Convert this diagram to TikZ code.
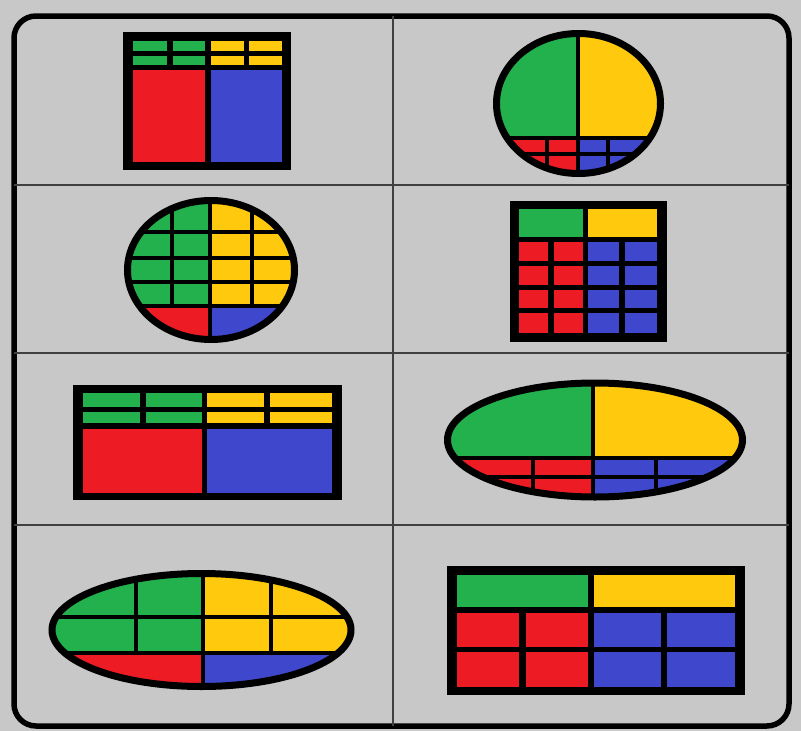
\documentclass[tikz,border=0pt]{standalone}
\usepackage{tikz}
\definecolor{paintgreen}{HTML}{22B14C}
\definecolor{paintyellow}{HTML}{FFC90E}
\definecolor{paintred}{HTML}{ED1C24}
\definecolor{paintblue}{HTML}{3F48CC}
\definecolor{paintgray}{HTML}{C8C8C8}

\begin{document}
\begin{tikzpicture}[x=1pt,y=-1pt,
frame/.style={draw=black,line width=5.5pt,rounded corners=22pt},
divider/.style={draw=black!75,line width=1.6pt},
gr/.style={fill=paintgreen},
ye/.style={fill=paintyellow},
re/.style={fill=paintred},
bl/.style={fill=paintblue},
sep/.style={draw=black,line width=4.5pt},
rim/.style={draw=black,line width=7pt}]
\fill[paintgray] (0,0) rectangle (801,731);
\useasboundingbox (0,0) rectangle (801,731);

% outer frame and cell grid
\draw[frame] (14,16) rectangle (789,726);
\draw[divider] (393,16) -- (393,726);
\draw[divider] (14,185) -- (789,185);
\draw[divider] (14,353) -- (789,353);
\draw[divider] (14,525) -- (789,525);

% row 1, left: table
\fill[black] (123,32) rectangle (291,170);
\foreach \ya/\yb in {41/51,56/65}{
  \fill[gr] (133,\ya) rectangle (167,\yb);
  \fill[gr] (173,\ya) rectangle (205,\yb);
  \fill[ye] (211,\ya) rectangle (244,\yb);
  \fill[ye] (249,\ya) rectangle (282,\yb);
}
\fill[re] (133,70) rectangle (205,162);
\fill[bl] (211,70) rectangle (282,162);

% row 1, right: ellipse
\begin{scope}
\clip (578.5,103.5) ellipse [x radius=82pt,y radius=70pt];
\fill[gr] (490,28) rectangle (578,138);
\fill[ye] (578,28) rectangle (667,138);
\fill[re] (490,138) rectangle (578,180);
\fill[bl] (578,138) rectangle (667,180);
\draw[sep] (578,28) -- (578,180);
\draw[sep] (490,138) -- (667,138);
\draw[sep,line width=4pt] (490,154) -- (667,154);
\draw[sep,line width=4pt] (547,138) -- (547,180);
\draw[sep,line width=4pt] (608,138) -- (608,180);
\end{scope}
\draw[rim] (578.5,103.5) ellipse [x radius=82pt,y radius=70pt];

% row 2, left: ellipse with grid
\begin{scope}
\clip (211,270) ellipse [x radius=83.5pt,y radius=69.5pt];
\fill[gr] (120,194) rectangle (210,306);
\fill[ye] (210,194) rectangle (302,306);
\fill[re] (120,306) rectangle (210,346);
\fill[bl] (210,306) rectangle (302,346);
\draw[sep] (210,194) -- (210,346);
\foreach \y in {232,258,282,306}
  \draw[sep] (120,\y) -- (302,\y);
\draw[sep] (172,194) -- (172,306);
\draw[sep] (252,194) -- (252,306);
\end{scope}
\draw[rim] (211,270) ellipse [x radius=83.5pt,y radius=69.5pt];

% row 2, right: table
\fill[black] (510,201) rectangle (667,342);
\fill[gr] (519,209) rectangle (583,237);
\fill[ye] (588,209) rectangle (657,237);
\foreach \ya/\yb in {242/261,266/285,290/308,313/333}{
  \fill[re] (519,\ya) rectangle (548,\yb);
  \fill[re] (554,\ya) rectangle (583,\yb);
  \fill[bl] (588,\ya) rectangle (619,\yb);
  \fill[bl] (625,\ya) rectangle (657,\yb);
}

% row 3, left: wide table
\fill[black] (73,385) rectangle (342,500);
\foreach \ya/\yb in {393/407,412/423}{
  \fill[gr] (83,\ya) rectangle (140,\yb);
  \fill[gr] (146,\ya) rectangle (202,\yb);
  \fill[ye] (207,\ya) rectangle (264,\yb);
  \fill[ye] (270,\ya) rectangle (332,\yb);
}
\fill[re] (83,429) rectangle (202,493);
\fill[bl] (207,429) rectangle (332,493);

% row 3, right: wide ellipse
\begin{scope}
\clip (595,440) ellipse [x radius=147.5pt,y radius=57pt];
\fill[gr] (440,376) rectangle (593,458);
\fill[ye] (593,376) rectangle (750,458);
\fill[re] (440,458) rectangle (593,504);
\fill[bl] (593,458) rectangle (750,504);
\draw[sep] (593,376) -- (593,504);
\draw[sep] (440,458) -- (750,458);
\draw[sep,line width=4pt] (440,477) -- (750,477);
\draw[sep,line width=4pt] (533,458) -- (533,504);
\draw[sep,line width=4pt] (656,458) -- (656,504);
\end{scope}
\draw[rim] (595,440) ellipse [x radius=147.5pt,y radius=57pt];

% row 4, left: wide ellipse with grid
\begin{scope}
\clip (201.5,630) ellipse [x radius=149.5pt,y radius=56.5pt];
\fill[gr] (45,566) rectangle (203,653);
\fill[ye] (203,566) rectangle (358,653);
\fill[re] (45,653) rectangle (203,694);
\fill[bl] (203,653) rectangle (358,694);
\draw[sep] (203,566) -- (203,694);
\draw[sep] (45,617) -- (358,617);
\draw[sep] (45,653) -- (358,653);
\draw[sep] (136,566) -- (136,653);
\draw[sep] (271,566) -- (271,653);
\end{scope}
\draw[rim] (201.5,630) ellipse [x radius=149.5pt,y radius=56.5pt];

% row 4, right: wide table
\fill[black] (447,566) rectangle (745,695);
\fill[gr] (457,575) rectangle (588,607);
\fill[ye] (594,575) rectangle (735,607);
\foreach \ya/\yb in {613/647,652/687}{
  \fill[re] (457,\ya) rectangle (519,\yb);
  \fill[re] (526,\ya) rectangle (588,\yb);
  \fill[bl] (594,\ya) rectangle (661,\yb);
  \fill[bl] (667,\ya) rectangle (735,\yb);
}
\end{tikzpicture}
\end{document}
